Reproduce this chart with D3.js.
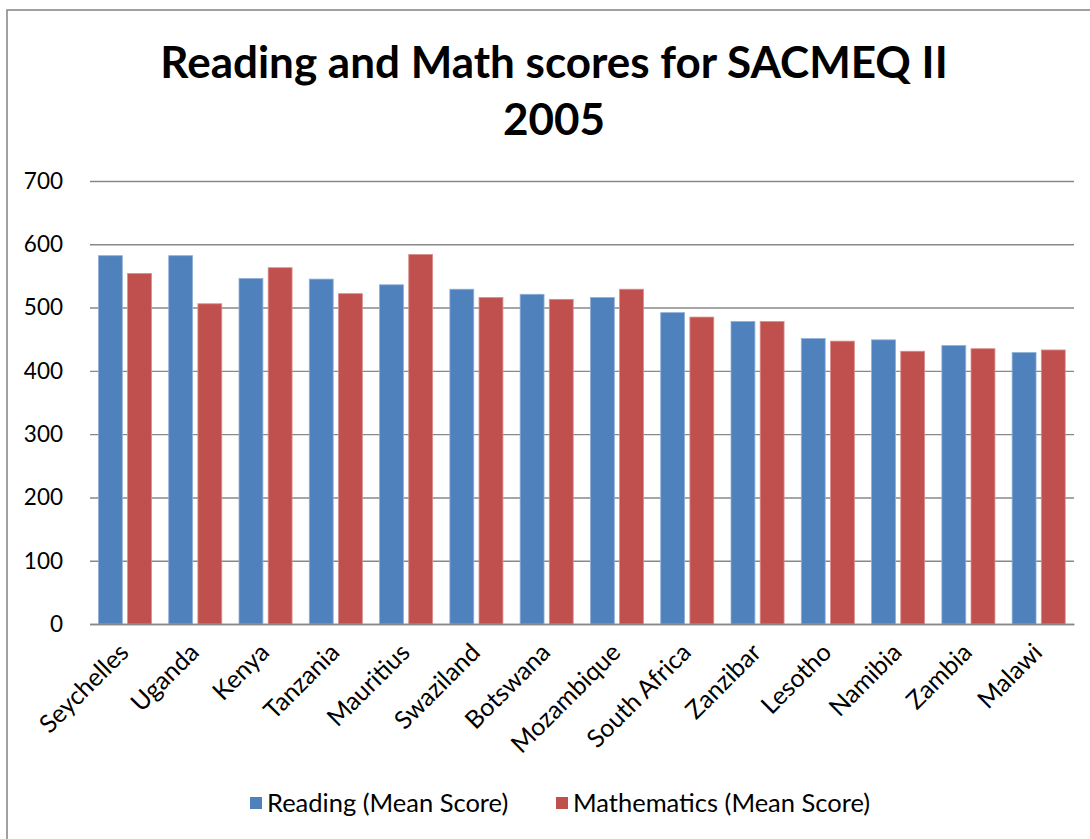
<!DOCTYPE html>
<html><head><meta charset="utf-8">
<script src="https://cdn.jsdelivr.net/npm/d3@7"></script>
<style>html,body{margin:0;padding:0;background:#fff;overflow:hidden}</style>
</head><body><svg id="c" width="1090" height="839"></svg>
<script>
const categories = ["Seychelles","Uganda","Kenya","Tanzania","Mauritius","Swaziland","Botswana","Mozambique","South Africa","Zanzibar","Lesotho","Namibia","Zambia","Malawi"];
const reading = [582,582,546,545,536,529,521,516,492,478,451,449,440,429];
const mathematics = [554,506,563,522,584,516,513,529,485,478,447,431,435,433];
const seriesNames = ["Reading (Mean Score)","Mathematics (Mean Score)"];
const yTicks = [0,100,200,300,400,500,600,700];
const title = ["Reading and Math scores for SACMEQ II","2005"];

const svg = d3.select("#c");
const font = "Lato, 'Open Sans', sans-serif";
const colors = ["#4F81BD","#C0504D"];
const strokes = ["#8FB0D8","#DA8E8C"];

svg.append("rect").attr("x",7).attr("y",10).attr("width",1100).attr("height",850)
  .attr("fill","#fff").attr("stroke","#8a8a8a").attr("stroke-width",1.6);

svg.selectAll("text.title").data(title).enter().append("text")
  .attr("x",554).attr("y",(d,i)=>78+i*57).attr("text-anchor","middle")
  .attr("font-family",font).attr("font-weight","bold").attr("font-size",44).attr("fill","#000")
  .text(d=>d);

const x = d3.scaleBand().domain(categories).range([90,1074]).padding(0);
const y = d3.scaleLinear().domain([0,700]).range([624,181]);

const grid = svg.append("g").attr("transform","translate(90,0)")
  .call(d3.axisLeft(y).tickValues(yTicks).tickSize(-984).tickFormat(""));
grid.select(".domain").remove();
grid.selectAll("line").attr("stroke","#888").attr("stroke-width",1.4);

svg.append("g").selectAll("text").data(yTicks).enter().append("text")
  .attr("x",63).attr("y",d=>y(d)).attr("dy","0.35em").attr("text-anchor","end")
  .attr("font-family",font).attr("font-size",22.5).attr("fill","#000").text(d=>d);

const bw = x.bandwidth();
const data = categories.map((c,i)=>({c, v:[reading[i], mathematics[i]]}));
const groups = svg.append("g").selectAll("g").data(data).enter().append("g")
  .attr("transform",d=>`translate(${x(d.c)},0)`);
groups.selectAll("rect").data(d=>d.v.map((v,k)=>({v,k}))).enter().append("rect")
  .attr("x",d=>d.k===0?bw*0.12:bw*0.535).attr("width",bw*0.34)
  .attr("y",d=>y(d.v)).attr("height",d=>y(0)-y(d.v))
  .attr("fill",d=>colors[d.k]).attr("stroke",d=>strokes[d.k]).attr("stroke-width",0.8);

const xa = svg.append("g").attr("transform","translate(0,624)")
  .call(d3.axisBottom(x).tickSize(0).tickFormat(""));
xa.select(".domain").attr("stroke","#888").attr("stroke-width",1.6);

svg.append("g").selectAll("text").data(categories).enter().append("text")
  .attr("transform",d=>`translate(${x(d)+bw/2+5},654) rotate(-45)`)
  .attr("text-anchor","end").attr("font-family",font).attr("font-size",25).attr("fill","#000")
  .text(d=>d);

const legX = [250,556];
const leg = svg.append("g").selectAll("g").data(seriesNames).enter().append("g");
leg.append("rect").attr("x",(d,i)=>legX[i]).attr("y",797).attr("width",12).attr("height",12)
  .attr("fill",(d,i)=>colors[i]);
leg.append("text").attr("x",(d,i)=>legX[i]+17).attr("y",812)
  .attr("font-family",font).attr("font-size",25.5).attr("fill","#000").text(d=>d);
</script></body></html>
